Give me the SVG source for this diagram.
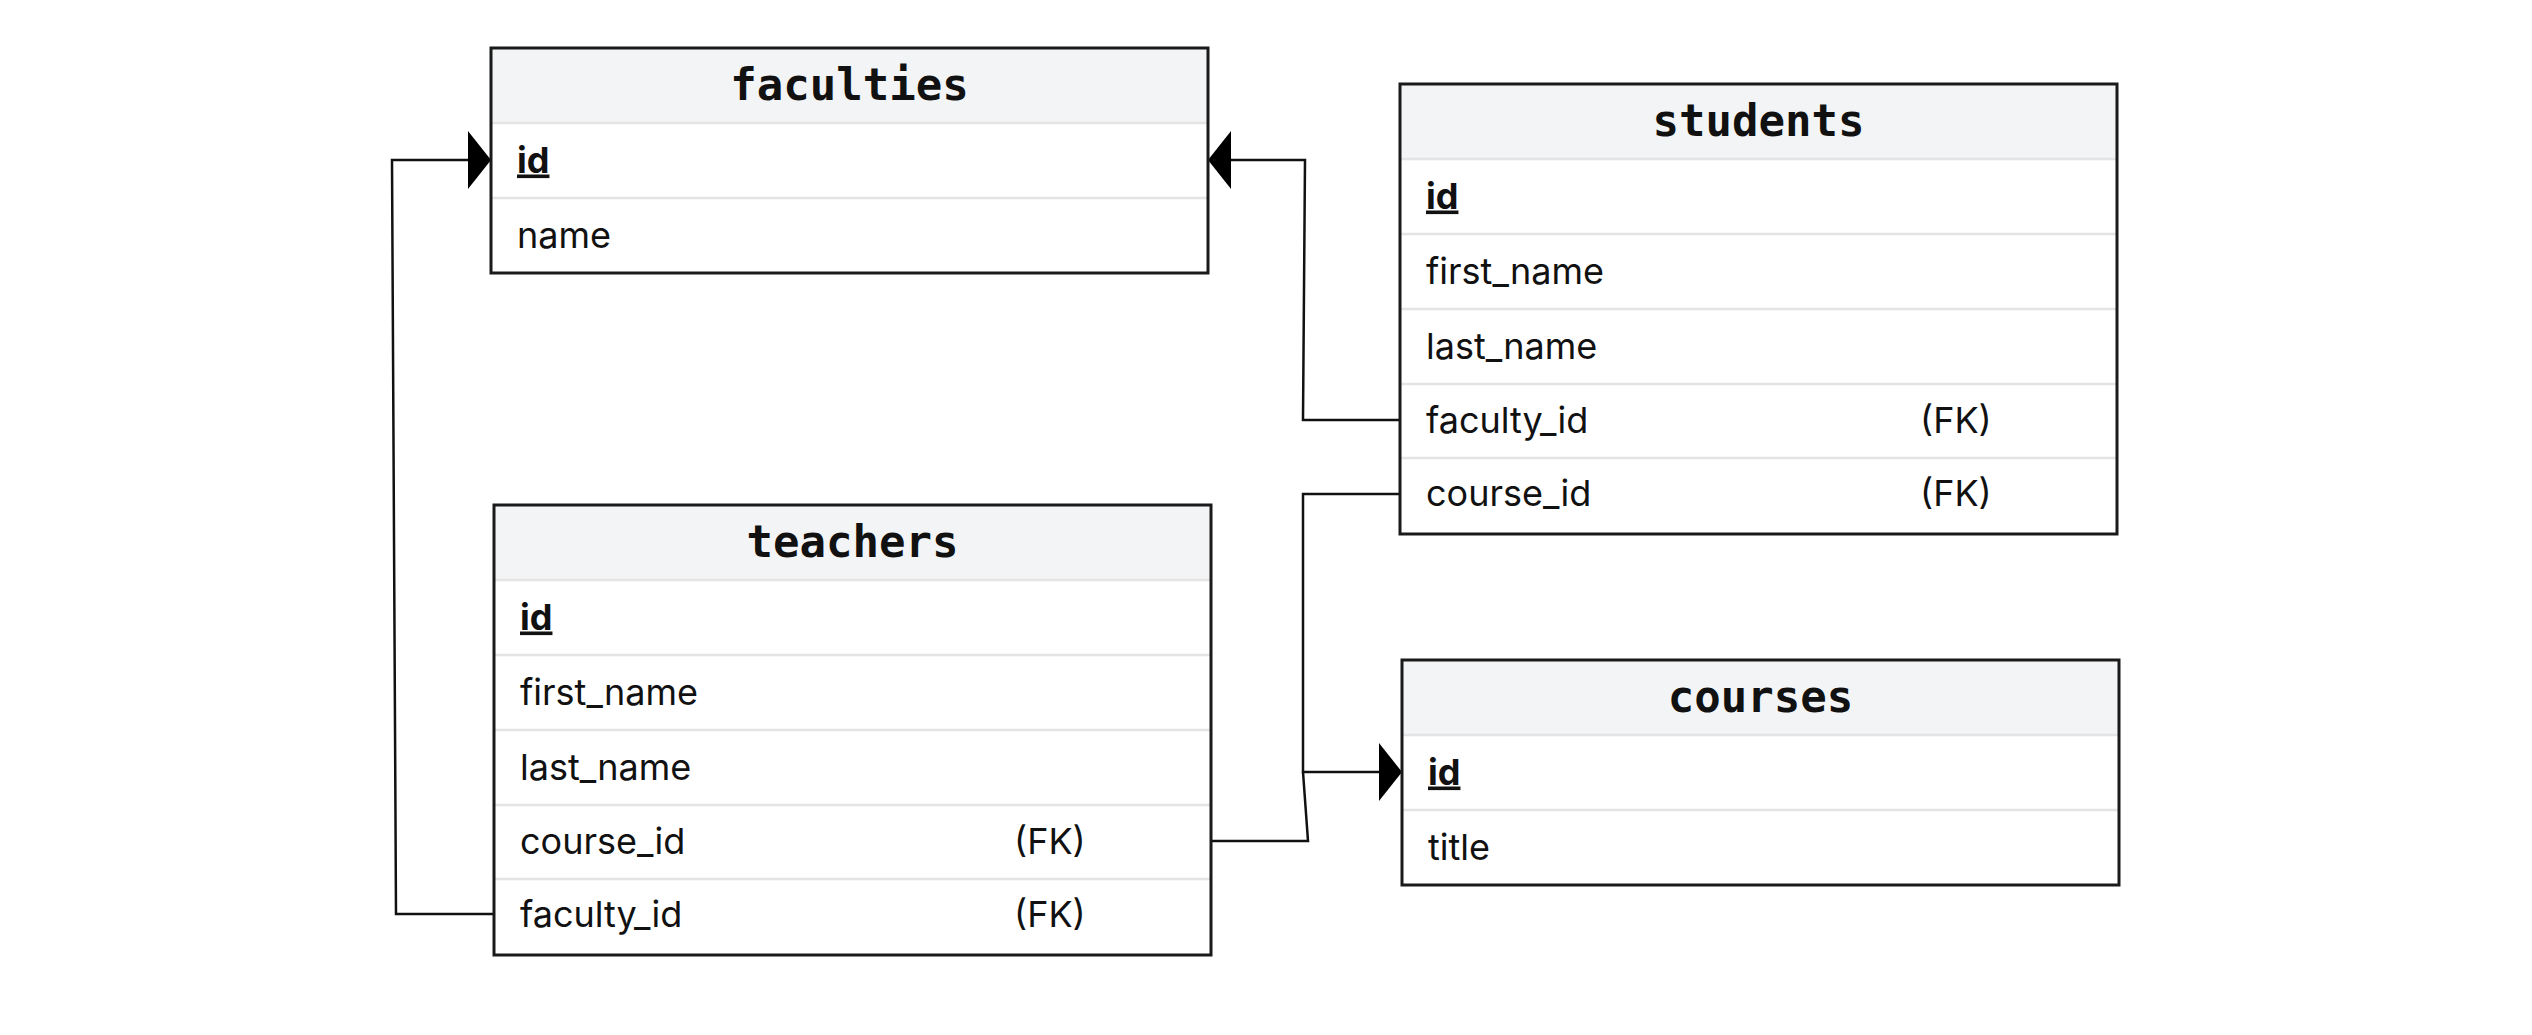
<svg xmlns="http://www.w3.org/2000/svg" width="2532" height="1035" viewBox="0 0 2532 1035">
<style>
.bg{fill:#fff;stroke:none}
.hdr{fill:#f3f4f6;stroke:none}
.div{stroke:#e4e4e4;stroke-width:2.5}
.border{fill:none;stroke:#1a1a1a;stroke-width:3}
.title{font-family:"DejaVu Sans Mono",monospace;font-weight:bold;font-size:44px;fill:#111;text-anchor:middle}
.f{font-family:Inter,"Liberation Sans",sans-serif;font-size:36px;fill:#111}
.pk{font-weight:bold;text-decoration:underline}
.conn{fill:none;stroke:#111;stroke-width:2.5}
.arr{marker-end:url(#head)}
</style>
<defs>
<marker id="head" markerUnits="userSpaceOnUse" viewBox="0 0 23 58" refX="23" refY="29" markerWidth="23" markerHeight="58" orient="auto">
<path d="M0,0 L23,29 L0,58 Z" fill="#000"/>
</marker>
</defs>
<rect width="2532" height="1035" fill="#fff"/>

<g id="connectors">
<path class="conn arr" d="M494,914 L396,914 L392,160 L491,160"/>
<path class="conn arr" d="M1400,420 L1303,420 L1305,160 L1208,160"/>
<path class="conn arr" d="M1400,494 L1303,494 L1303,772 L1402,772"/>
<path class="conn" d="M1211,841 L1308,841 L1303,772"/>
</g>

<g id="faculties">
<rect class="bg" x="491" y="48" width="717" height="225"/>
<rect class="hdr" x="491" y="48" width="717" height="75"/>
<line class="div" x1="491" y1="123" x2="1208" y2="123"/>
<line class="div" x1="491" y1="198" x2="1208" y2="198"/>
<rect class="border" x="491" y="48" width="717" height="225"/>
<text class="title" x="849.5" y="100">faculties</text>
<text class="f pk" x="517" y="172.5">id</text>
<text class="f" x="517" y="247.5">name</text>
</g>

<g id="students">
<rect class="bg" x="1400" y="84" width="717" height="450"/>
<rect class="hdr" x="1400" y="84" width="717" height="75"/>
<line class="div" x1="1400" y1="159" x2="2117" y2="159"/>
<line class="div" x1="1400" y1="234" x2="2117" y2="234"/>
<line class="div" x1="1400" y1="309" x2="2117" y2="309"/>
<line class="div" x1="1400" y1="384" x2="2117" y2="384"/>
<line class="div" x1="1400" y1="458" x2="2117" y2="458"/>
<rect class="border" x="1400" y="84" width="717" height="450"/>
<text class="title" x="1758.5" y="136">students</text>
<text class="f pk" x="1426" y="208.5">id</text>
<text class="f" x="1426" y="283.5">first_name</text>
<text class="f" x="1426" y="358.5">last_name</text>
<text class="f" x="1426" y="432.5">faculty_id</text>
<text class="f" x="1920" y="432.5">(FK)</text>
<text class="f" x="1426" y="505.5">course_id</text>
<text class="f" x="1920" y="505.5">(FK)</text>
</g>

<g id="teachers">
<rect class="bg" x="494" y="505" width="717" height="450"/>
<rect class="hdr" x="494" y="505" width="717" height="75"/>
<line class="div" x1="494" y1="580" x2="1211" y2="580"/>
<line class="div" x1="494" y1="655" x2="1211" y2="655"/>
<line class="div" x1="494" y1="730" x2="1211" y2="730"/>
<line class="div" x1="494" y1="805" x2="1211" y2="805"/>
<line class="div" x1="494" y1="879" x2="1211" y2="879"/>
<rect class="border" x="494" y="505" width="717" height="450"/>
<text class="title" x="852.5" y="557">teachers</text>
<text class="f pk" x="520" y="629.5">id</text>
<text class="f" x="520" y="704.5">first_name</text>
<text class="f" x="520" y="779.5">last_name</text>
<text class="f" x="520" y="853.5">course_id</text>
<text class="f" x="1014" y="853.5">(FK)</text>
<text class="f" x="520" y="926.5">faculty_id</text>
<text class="f" x="1014" y="926.5">(FK)</text>
</g>

<g id="courses">
<rect class="bg" x="1402" y="660" width="717" height="225"/>
<rect class="hdr" x="1402" y="660" width="717" height="75"/>
<line class="div" x1="1402" y1="735" x2="2119" y2="735"/>
<line class="div" x1="1402" y1="810" x2="2119" y2="810"/>
<rect class="border" x="1402" y="660" width="717" height="225"/>
<text class="title" x="1760.5" y="712">courses</text>
<text class="f pk" x="1428" y="784.5">id</text>
<text class="f" x="1428" y="859.5">title</text>
</g>
</svg>
